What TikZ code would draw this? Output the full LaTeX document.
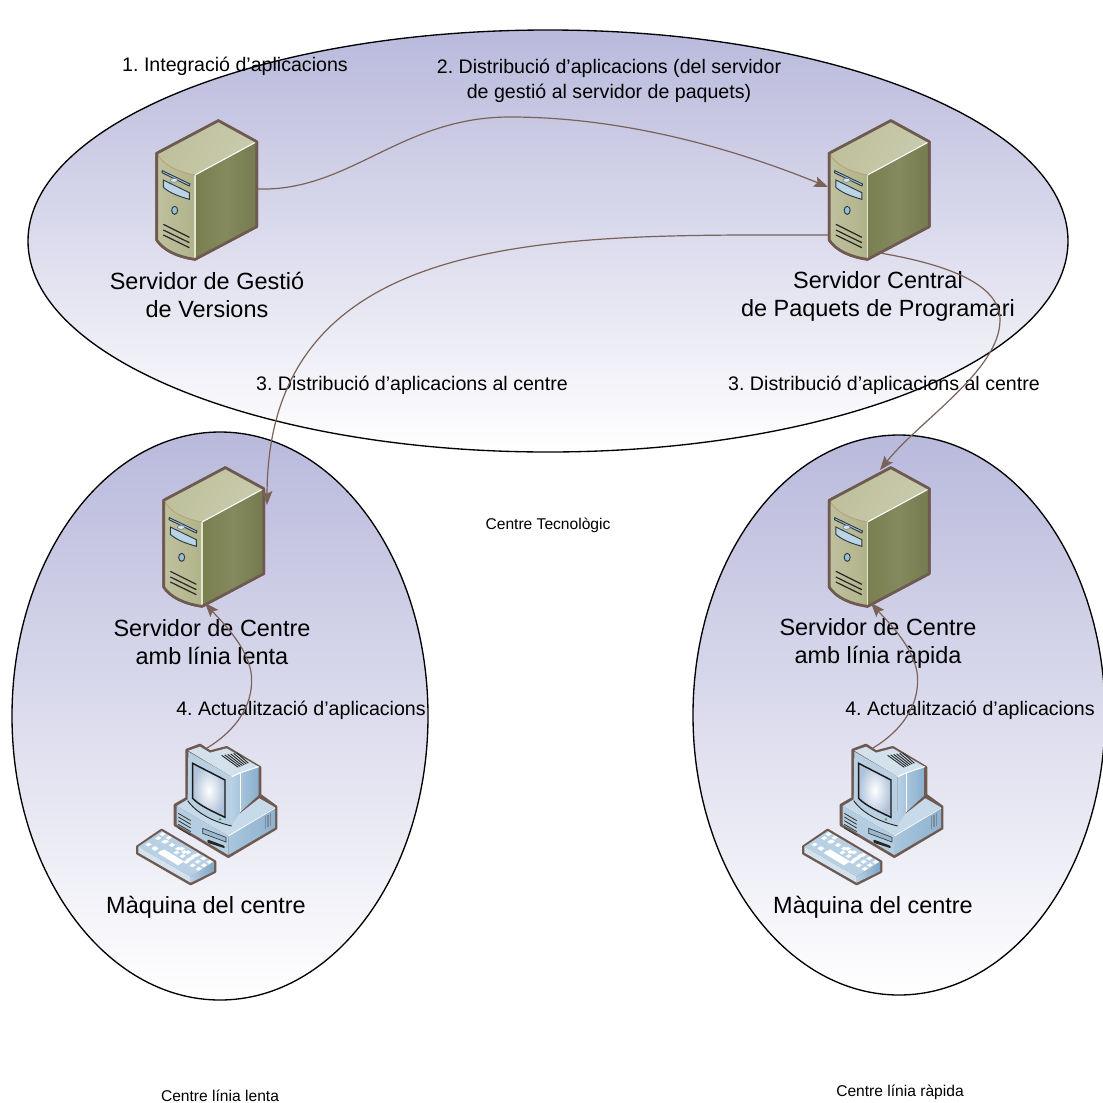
\documentclass[tikz,border=0pt]{standalone}
\usepackage{fontspec}
\setmainfont{Liberation Sans}
\usetikzlibrary{arrows.meta}
\frenchspacing
\definecolor{edgebr}{HTML}{6E5A50}
\definecolor{linkbr}{HTML}{7A6258}
\definecolor{ellblue}{HTML}{B9B9DC}
\newcommand{\hc}[1]{\definecolor{#1}{HTML}{#1}}
\hc{BDC09A}\hc{C9CBAE}\hc{BFC19F}\hc{B0B389}\hc{7A7F50}\hc{757B4E}\hc{848A5E}\hc{E4E4D2}\hc{C09E74}
\hc{A9C6DC}\hc{2F3A44}\hc{BAD4E6}\hc{D5E3EE}\hc{5A7A90}\hc{9DBDD6}\hc{B7D0E3}\hc{D3E2EC}\hc{B5CFE2}\hc{7FA6C6}
\hc{C7DAE9}\hc{B4CDE0}\hc{A9C6DD}\hc{8DB2D0}\hc{7D8B98}\hc{9DB8CC}\hc{B8D0E2}\hc{D2E1EC}\hc{88AFCE}\hc{AFC2DA}\hc{3D9B52}
\tikzset{
  zone/.style={draw=black,line width=1pt,top color=ellblue,bottom color=white,shading angle=0},
  biglabel/.style={font=\fontsize{17.6}{21}\selectfont,align=center,inner sep=0pt},
  midlabel/.style={font=\fontsize{14.7}{18.7}\selectfont,align=center,inner sep=0pt},
  smalllabel/.style={font=\fontsize{11.7}{13}\selectfont,inner sep=0pt},
  link/.style={draw=linkbr,line width=0.9pt,-{Stealth[length=10.5pt,width=8pt,inset=2pt]}},
  outline/.style={draw=edgebr,line width=2pt,line join=round},
  kb/.style={fill=white}
}
\newcommand{\serverpic}{%
  \path[outline,fill=edgebr] (265,62) -- (380,125) -- (380,380) -- (195,478) .. controls (140,470) and (100,450) .. (80,420) -- (80,160) -- cycle;
  \shade[left color=BDC09A,right color=C9CBAE,shading angle=60] (80,160) -- (265,62) -- (380,125) -- (195,225) .. controls (140,215) and (100,195) .. (80,160) -- cycle;
  \shade[left color=BFC19F,right color=B0B389] (80,160) .. controls (100,195) and (140,215) .. (195,225) -- (195,478) .. controls (140,470) and (100,450) .. (80,420) -- cycle;
  \shade[left color=7A7F50,right color=757B4E,middle color=848A5E] (195,225) -- (380,125) -- (380,380) -- (195,478) -- cycle;
  \draw[white,line width=0.8pt] (195,225) -- (380,125);
  \draw[E4E4D2,line width=0.8pt] (195,225) -- (195,478);
  \draw[C09E74,line width=0.6pt] (80,160) .. controls (100,195) and (140,215) .. (195,225);
  \path[outline] (265,62) -- (380,125) -- (380,380) -- (195,478) .. controls (140,470) and (100,450) .. (80,420) -- (80,160) -- cycle;
  \draw[fill=A9C6DC,draw=2F3A44,line width=0.7pt] (97,212) -- (180,252) -- (178,258) -- (96,218) -- cycle;
  \draw[fill=BAD4E6,draw=2F3A44,line width=0.7pt] (100,240) -- (178,278) -- (178,298) .. controls (150,290) and (120,280) .. (100,262) -- cycle;
  \draw[fill=D5E3EE,draw=5A7A90,line width=0.4pt] (132,241) ellipse (11 and 6);
  \draw[fill=9DBDD6,draw=2F3A44,line width=0.7pt] (134,331) ellipse (9 and 12);
  \foreach \a/\b in {373/412,390/428,405/443}
    \draw[black!85,line width=0.9pt] (100,\a) -- (178,\b);
}
\newcommand{\keyrow}[3]{% col count, start x, start y
  \foreach \i in {0,...,#1}
    \fill[kb] ({#2+\i*18.5},{#3+\i*10.5}) -- ++(9,5.5) -- ++(10,-6.5) -- ++(-9,-5.5) -- cycle;
}
\newcommand{\pcpic}{%
  % keyboard
  \path[outline,fill=edgebr] (52,350) -- (125,300) -- (285,395) -- (285,425) -- (212,462) -- (52,370) -- cycle;
  \fill[B7D0E3] (55,350) -- (125,303) -- (282,396) -- (212,440) -- cycle;
  \fill[D3E2EC] (55,350) -- (212,440) -- (212,458) -- (55,368) -- cycle;
  \shade[left color=B5CFE2,right color=7FA6C6] (212,440) -- (282,396) -- (282,424) -- (212,458) -- cycle;
  \keyrow{1}{76}{344}
  \keyrow{1}{105}{325}
  \keyrow{1}{118}{313}
  \keyrow{3}{96}{357}
  \keyrow{3}{128}{335}
  \keyrow{2}{190}{396}
  \keyrow{2}{205}{385}
  \keyrow{2}{176}{357}
  \keyrow{2}{160}{368}
  \keyrow{2}{222}{375}
  \fill[kb] (114,370) -- (132,358) -- (192,394) -- (174,406) -- cycle;
  % base
  \path[outline,fill=edgebr] (165,225) -- (200,205) -- (200,60) -- (240,45) -- (270,65) -- (320,52) -- (420,112) -- (420,195) -- (468,230) -- (468,295) -- (325,380) -- (165,285) -- cycle;
  \fill[C7DAE9] (170,228) -- (205,207) -- (360,250) -- (418,205) -- (465,232) -- (325,318) -- cycle;
  \fill[B4CDE0] (170,228) -- (325,318) -- (325,375) -- (170,283) -- cycle;
  \shade[left color=A9C6DD,right color=8DB2D0] (325,318) -- (465,234) -- (465,293) -- (325,375) -- cycle;
  \draw[white,line width=0.6pt] (325,318) -- (465,234);
  \foreach \a in {0,1,2,3,4}
    \draw[black!80,line width=0.6pt] (175,{250+\a*11}) -- (212,{272+\a*11});
  \foreach \a in {0,1,2}
    \draw[7D8B98,line width=1.1pt] ({436+\a*8},{258-\a*4}) -- ({436+\a*8},{296-\a*4});
  \draw[fill=9DB8CC,draw=2F3A44,line width=0.5pt] (248,295) -- (318,322) -- (318,336) -- (248,310) -- cycle;
  \fill[black!85,rounded corners=1pt] (262,328) -- (315,348) -- (315,355) -- (262,338) -- cycle;
  % monitor
  \fill[B8D0E2] (205,65) -- (335,140) -- (335,288) .. controls (280,275) and (225,245) .. (203,212) -- cycle;
  \fill[D2E1EC] (205,62) -- (240,50) -- (270,68) -- (320,55) -- (416,110) -- (362,128) -- (335,140) -- cycle;
  \shade[left color=B7D0E3,right color=88AFCE] (335,140) -- (362,128) -- (416,110) -- (416,195) -- (362,245) -- (335,285) -- cycle;
  \draw[white,line width=0.8pt] (335,140) -- (362,128) -- (416,110);
  \draw[white,line width=0.8pt] (362,128) -- (362,245);
  \draw[black!85,line width=0.7pt] (203,212) .. controls (230,250) and (280,275) .. (335,288);
  \shade[inner color=white,outer color=AFC2DA] (218,100) -- (315,150) -- (315,262) .. controls (280,245) and (240,228) .. (218,205) -- cycle;
  \draw[black!90,line width=1.1pt] (218,100) -- (315,150) -- (315,262) .. controls (280,245) and (240,228) .. (218,205) -- cycle;
  \fill[3D9B52] (300,268) circle (4);
  \foreach \a in {0,1,2,3,4,5}
    \draw[black!85,line width=0.7pt] ({305+\a*9},{76-\a*1.5}) -- ({355+\a*6},{112-\a*2.5});
}
\begin{document}
\begin{tikzpicture}[x=0.75pt,y=-0.75pt]
\useasboundingbox (0,0) rectangle (1103,1103);
\fill[white] (0,0) rectangle (1103,1103);
% zones
\path[zone] (548,241) ellipse (520 and 211);
\path[zone] (220,716) ellipse (208 and 284);
\path[zone] (899,715) ellipse (206 and 280);
% icons
\begin{scope}[shift={(130,100)},x=0.25pt,y=-0.25pt]\serverpic\end{scope}
\begin{scope}[shift={(802.5,100)},x=0.25pt,y=-0.25pt]\serverpic\end{scope}
\begin{scope}[shift={(137,447)},x=0.25pt,y=-0.25pt]\serverpic\end{scope}
\begin{scope}[shift={(802.5,447)},x=0.25pt,y=-0.25pt]\serverpic\end{scope}
\begin{scope}[shift={(120,730)},x=0.25pt,y=-0.25pt]\pcpic\end{scope}
\begin{scope}[shift={(786,730)},x=0.25pt,y=-0.25pt]\pcpic\end{scope}
% labels
\node[biglabel] (gest) at (207,295) {Servidor de Gestió\\de Versions};
\node[biglabel] (cent) at (878,296) {Servidor Central\\de Paquets de Programari};
\node[biglabel] (lenta) at (212,642) {Servidor de Centre\\amb línia lenta};
\node[biglabel] (rapida) at (878,643.5) {Servidor de Centre\\amb línia ràpida};
\node[biglabel] (maqa) at (206,907) {Màquina del centre};
\node[biglabel] (maqb) at (873,907) {Màquina del centre};
\node[midlabel] (t1) at (235,66) {1. Integració d’aplicacions};
\node[midlabel] (t2) at (609,81) {2. Distribució d’aplicacions (del servidor\\de gestió al servidor de paquets)};
\node[midlabel] (t3a) at (412,385) {3. Distribució d’aplicacions al centre};
\node[midlabel] (t3b) at (884,385) {3. Distribució d’aplicacions al centre};
\node[midlabel] (t4a) at (301,710) {4. Actualització d’aplicacions};
\node[midlabel] (t4b) at (970,710) {4. Actualització d’aplicacions};
\node[smalllabel] (za) at (548,525) {Centre Tecnològic};
\node[smalllabel] (zb) at (220,1096) {Centre línia lenta};
\node[smalllabel] (zc) at (900,1092) {Centre línia ràpida};
% connector ends
\coordinate (s1out) at (257,189);
\coordinate (s2in) at (828,187);
\coordinate (s2outl) at (828,235);
\coordinate (s3in) at (267,505);
\coordinate (s2outr) at (880,253);
\coordinate (s4in) at (880,470);
\coordinate (m1out) at (207,748);
\coordinate (s3up) at (205,603);
\coordinate (m2out) at (873,748);
\coordinate (s4up) at (871,603);
% connectors
\draw[link] (s1out) .. controls (350,192) and (400,117) .. (510,117) .. controls (620,117) and (730,147) .. (s2in);
\draw[link] (s2outl) .. controls (560,235) and (268,225) .. (s3in);
\draw[link] (s2outr) .. controls (950,265) and (1000,285) .. (1000,320) .. controls (1000,370) and (920,420) .. (s4in);
\draw[link] (m1out) .. controls (240,728) and (255,700) .. (251,672) .. controls (246,645) and (222,622) .. (s3up);
\draw[link] (m2out) .. controls (906,728) and (921,700) .. (917,672) .. controls (912,645) and (888,622) .. (s4up);
\end{tikzpicture}
\end{document}
